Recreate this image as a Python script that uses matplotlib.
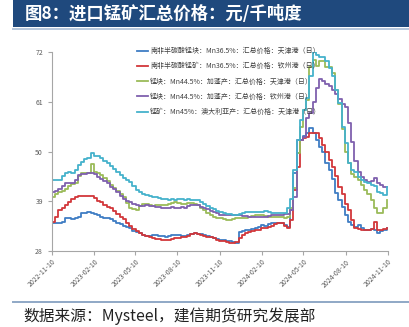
import matplotlib
matplotlib.use("Agg")
import matplotlib.pyplot as plt
from matplotlib.patches import Rectangle
from matplotlib.lines import Line2D
import pandas as pd

plt.rcParams['font.family'] = ['Noto Sans CJK SC', 'DejaVu Sans']

# Weekly observations starting 2022-11-10
start_date = "2022-11-10"

sa_block_tianjin = [
    34.3, 34.3, 34.3, 34.5, 35.4, 35.2, 35.0, 35.4, 35.6, 36.3,
    36.5, 36.6, 36.5, 36.2, 35.9, 35.6, 35.4, 35.3, 35.1, 34.6,
    34.2, 33.9, 33.6, 33.2, 33.0, 32.5, 32.2, 31.9, 31.6, 31.3,
    31.4, 31.5, 31.5, 31.4, 31.3, 31.2, 31.3, 31.5, 31.5, 31.5,
    31.4, 31.4, 31.6, 31.8, 31.9, 31.8, 31.8, 31.6, 31.3, 31.0,
    30.8, 30.6, 30.5, 30.4, 30.3, 30.2, 30.0, 29.7, 32.3, 32.4,
    32.6, 32.7, 32.8, 33.0, 33.2, 33.7, 33.5, 34.0, 34.3, 34.3,
    34.3, 34.2, 33.8, 33.4, 37.1, 45.2, 49.6, 52.5, 53.5, 54.0,
    55.1, 54.0, 52.5, 51.0, 50.0, 47.5, 46.0, 44.0, 40.8, 39.3,
    37.8, 36.0, 34.5, 33.7, 33.4, 33.8, 33.0, 32.6, 32.6, 32.8,
    32.6, 31.9, 32.4, 32.6, 33.0,
]

sa_ore_qinzhou = [
    34.5, 35.5, 37.1, 37.5, 38.2, 38.8, 39.6, 40.0, 40.2, 40.2,
    40.2, 40.2, 40.2, 39.7, 39.0, 38.8, 38.2, 37.8, 37.4, 36.8,
    36.2, 35.6, 35.0, 34.2, 33.5, 32.9, 32.5, 32.0, 31.6, 31.3,
    31.0, 30.8, 30.7, 30.6, 30.4, 30.4, 30.5, 30.6, 30.8, 30.9,
    31.0, 31.2, 31.4, 31.7, 31.9, 31.7, 31.5, 31.4, 31.2, 31.0,
    30.8, 30.5, 30.3, 30.2, 30.0, 29.8, 29.7, 30.0, 30.8, 31.5,
    32.0, 32.3, 32.4, 32.6, 32.7, 33.0, 33.0, 33.2, 33.6, 34.0,
    34.1, 34.1, 33.5, 33.0, 34.9, 41.5, 46.6, 52.5, 53.0, 53.3,
    54.0, 54.0, 54.0, 53.0, 51.5, 50.0, 48.1, 46.5, 44.5, 42.2,
    40.5, 38.5, 37.1, 34.9, 33.0, 32.8, 32.6, 32.6, 32.6, 32.8,
    34.5, 32.6, 32.6, 32.8, 33.0,
]

gabon_block_tianjin = [
    40.0, 40.6, 41.1, 41.3, 41.8, 42.3, 42.8, 43.0, 44.5, 45.2,
    45.2, 45.3, 47.2, 45.5, 45.2, 44.7, 44.2, 43.4, 42.6, 41.9,
    41.2, 40.5, 40.0, 38.6, 37.4, 37.2, 37.1, 38.0, 38.5, 38.4,
    38.2, 38.0, 38.2, 38.2, 38.1, 38.2, 38.4, 38.6, 38.9, 38.6,
    38.4, 38.5, 38.7, 38.6, 38.5, 38.2, 37.6, 37.0, 36.4, 36.0,
    35.6, 35.4, 35.2, 35.1, 34.9, 34.9, 35.1, 35.3, 35.4, 35.4,
    35.4, 35.5, 35.7, 36.0, 36.0, 36.0, 35.8, 35.6, 35.6, 35.6,
    35.5, 35.6, 35.2, 35.5, 37.4, 42.0, 49.6, 55.5, 59.2, 61.4,
    68.7, 70.2, 68.8, 70.1, 70.0, 68.7, 68.7, 67.3, 63.6, 60.5,
    55.0, 50.0, 47.4, 45.0, 44.4, 43.7, 42.6, 41.5, 40.5, 39.3,
    37.5, 36.3, 36.5, 37.5, 39.3,
]

gabon_block_qinzhou = [
    41.1, 41.3, 41.6, 42.3, 43.0, 43.1, 43.0, 43.8, 44.8, 45.0,
    45.1, 45.2, 45.3, 45.1, 44.4, 44.0, 43.5, 43.0, 42.2, 41.6,
    41.0, 40.2, 39.6, 39.1, 38.9, 38.4, 38.2, 38.0, 38.0, 38.1,
    38.0, 37.9, 37.8, 37.7, 37.6, 37.6, 37.6, 37.7, 37.6, 37.6,
    37.7, 37.6, 37.9, 38.2, 38.2, 38.1, 37.8, 37.4, 37.2, 36.9,
    36.6, 36.3, 36.0, 36.0, 36.0, 36.0, 36.0, 36.0, 35.9, 35.8,
    35.7, 35.6, 35.6, 35.6, 35.6, 35.6, 35.6, 35.8, 36.0, 36.0,
    36.0, 36.0, 36.1, 36.2, 37.0, 40.0, 52.5, 52.5, 53.3, 57.5,
    58.5, 61.0, 64.0, 66.0, 65.5, 65.0, 64.5, 63.6, 62.8, 61.5,
    60.5, 59.9, 56.2, 52.0, 48.0, 45.5, 44.4, 43.8, 43.3, 43.5,
    44.1, 43.0, 42.5, 42.2, 42.2,
]

au_ore_tianjin = [
    43.7, 43.7, 43.7, 44.5, 45.2, 45.5, 45.3, 45.9, 47.0, 47.7,
    48.3, 48.6, 49.6, 49.0, 48.9, 48.6, 48.0, 47.4, 46.8, 46.2,
    45.5, 44.8, 44.2, 43.6, 43.2, 42.3, 41.5, 41.0, 40.5, 40.3,
    40.1, 40.0, 40.0, 39.8, 39.6, 39.4, 39.3, 39.4, 39.2, 39.6,
    39.4, 39.3, 39.4, 39.3, 39.3, 39.2, 38.8, 38.5, 38.0, 37.5,
    37.2, 36.8, 36.6, 36.4, 36.2, 36.1, 36.0, 36.0, 36.2, 36.5,
    36.7, 36.7, 36.6, 36.7, 36.7, 36.7, 36.8, 36.6, 36.5, 36.5,
    36.5, 36.5, 36.4, 37.5, 39.5, 46.0, 52.5, 57.0, 59.2, 61.8,
    66.6, 71.9, 71.4, 71.0, 71.0, 70.0, 68.4, 66.6, 63.6, 60.7,
    55.5, 51.8, 47.4, 46.0, 45.5, 44.4, 43.8, 43.3, 43.0, 42.6,
    42.3, 41.1, 40.8, 40.4, 42.2,
]

series_labels = [
    "南非半碳酸锰块：Mn36.5%：汇总价格：天津港（日）",
    "南非半碳酸锰矿：Mn36.5%：汇总价格：钦州港（日）",
    "锰块：Mn44.5%：加蓬产：汇总价格：天津港（日）",
    "锰块：Mn44.5%：加蓬产：汇总价格：钦州港（日）",
    "锰矿：Mn45%：澳大利亚产：汇总价格：天津港（日）",
]
series_colors = ["#3F7DC4", "#D2373A", "#9BBB59", "#7F60AE", "#45B2CC"]

y_ticks = [28, 39, 50, 61, 72]
x_tick_dates = ["2022-11-10", "2023-02-10", "2023-05-10", "2023-08-10",
                "2023-11-10", "2024-02-10", "2024-05-10", "2024-08-10",
                "2024-11-10"]

W, H = 409, 327
fig = plt.figure(figsize=(W / 100, H / 100), dpi=100)
fig.patch.set_facecolor("white")

# header band
fig.patches.append(Rectangle((13 / W, 1 - 27 / H), 396 / W, 27 / H,
                             transform=fig.transFigure, facecolor="#1F497D",
                             edgecolor="none"))
fig.lines.append(Line2D([13 / W, 1], [1 - 28.5 / H, 1 - 28.5 / H],
                        transform=fig.transFigure, color="#B4C6DC", lw=1.4))
fig.text(25 / W, 1 - 13.5 / H, "图8：进口锰矿汇总价格：元/千吨度",
         color="white", fontsize=12.5, fontweight="bold", va="center", ha="left")

# footer
fig.lines.append(Line2D([13 / W, 1], [1 - 302 / H, 1 - 302 / H],
                        transform=fig.transFigure, color="#8FA8C6", lw=1.4))
fig.text(23 / W, 1 - 316 / H, "数据来源：Mysteel，建信期货研究发展部",
         color="#222222", fontsize=11.3, va="center", ha="left", style="italic")

ax = fig.add_axes([52 / W, 1 - 251 / H, 336 / W, 199 / H])
dates = pd.date_range(start_date, periods=len(au_ore_tianjin), freq="7D")

all_series = [sa_block_tianjin, sa_ore_qinzhou, gabon_block_tianjin,
              gabon_block_qinzhou, au_ore_tianjin]
for vals, lab, col in zip(all_series, series_labels, series_colors):
    ax.plot(dates, vals, drawstyle="steps-post", color=col, lw=1.3, label=lab)

ax.set_ylim(28, 72)
ax.set_yticks(y_ticks)
tick_dates = pd.to_datetime(x_tick_dates)
ax.set_xlim(tick_dates[0], tick_dates[-1])
ax.set_xticks(tick_dates)
ax.set_xticklabels(x_tick_dates, rotation=45, ha="right", rotation_mode="anchor")

for side in ("top", "right"):
    ax.spines[side].set_visible(False)
for side in ("left", "bottom"):
    ax.spines[side].set_color("#A6A6A6")
    ax.spines[side].set_linewidth(0.8)
ax.tick_params(axis="both", colors="#A6A6A6", length=3, width=0.8,
               labelsize=5, labelcolor="#595959")
ax.tick_params(axis="x", pad=2)

leg = ax.legend(loc="upper left", bbox_to_anchor=(137 / W, 1 - 47 / H),
                bbox_transform=fig.transFigure, frameon=False, fontsize=5,
                handlelength=1.6, handletextpad=0.3, labelspacing=1.05,
                borderpad=0, borderaxespad=0)
for t in leg.get_texts():
    t.set_color("#404040")

fig.savefig("out.png", dpi=100)
